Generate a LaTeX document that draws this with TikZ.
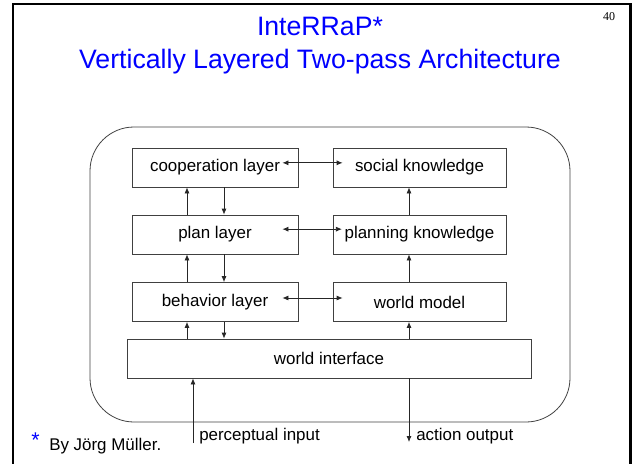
\documentclass[tikz,border=0pt]{standalone}
\usepackage{fontspec}
\setmainfont{Liberation Sans}
\newfontfamily\numfont{Liberation Serif}
\usepackage{tikz}
\usetikzlibrary{arrows.meta, positioning}
\definecolor{slideblue}{RGB}{0,0,255}

\begin{document}
\begin{tikzpicture}[
    x=0.75pt, y=-0.75pt,
    >={Latex[length=4.5pt,width=3.8pt]},
    box/.style={draw=black!75, line width=0.6pt, minimum height=29.25pt, inner sep=0pt,
        font=\fontsize{12.7}{15}\selectfont},
    layerbox/.style={box, minimum width=124.5pt},
    knowbox/.style={box, minimum width=129.75pt},
    lbl/.style={inner sep=0pt, font=\fontsize{12.7}{15}\selectfont},
    title/.style={inner sep=0pt, text=slideblue, font=\fontsize{20}{24}\selectfont},
    flow/.style={->, draw=black!85, line width=0.6pt}
]
\useasboundingbox (0,0) rectangle (632,464);
% slide frame
\draw[line width=2.2pt] (13,464) -- (13,4) -- (630.5,4) -- (630.5,464);
\node[anchor=base, inner sep=0pt, font=\numfont\fontsize{9}{11}\selectfont] (pagenum) at (609,21) {40};

% title
\node[title, anchor=base] (title1) at (320,36) {InteRRaP*};
\node[title, anchor=base] (title2) at (320,68) {Vertically Layered Two-pass Architecture};

% agent
\draw[draw=black!75, line width=0.6pt, rounded corners=33pt] (90,127) rectangle (570,422);

\node[layerbox] (coop) at (215,167.5) {cooperation layer};
\node[knowbox] (social) at (419.5,167.5) {social knowledge};
\node[layerbox] (plan) at (215,234.5) {plan layer};
\node[knowbox] (planning) at (419.5,234.5) {planning knowledge};
\node[layerbox] (behav) at (215,302) {behavior layer};
\node[knowbox] (world) at (419.5,302) {world model};
\node[box, minimum width=303pt] (wi) at (329,358.5) {world interface};

\coordinate (lup) at (187,0);
\coordinate (ldown) at (224,0);
\coordinate (rup) at (409,0);
\coordinate (pin) at (193,443);
\coordinate (aout) at (409,442);

% two-pass control
\draw[flow] (plan.north -| lup) -- (coop.south -| lup);
\draw[flow] (coop.south -| ldown) -- (plan.north -| ldown);
\draw[flow] (behav.north -| lup) -- (plan.south -| lup);
\draw[flow] (plan.south -| ldown) -- (behav.north -| ldown);
\draw[flow] (wi.north -| lup) -- (behav.south -| lup);
\draw[flow] (behav.south -| ldown) -- (wi.north -| ldown);

\draw[flow] (planning.north -| rup) -- (social.south -| rup);
\draw[flow] (world.north -| rup) -- (planning.south -| rup);
\draw[flow] (wi.north -| rup) -- (world.south -| rup);

\draw[flow, <->, shorten <=-12pt, shorten >=-7.5pt] ([yshift=3.5pt]coop.east) -- ([yshift=3.5pt]social.west);
\draw[flow, <->, shorten <=-12pt, shorten >=-7pt] ([yshift=4pt]plan.east) -- ([yshift=4pt]planning.west);
\draw[flow, <->, shorten <=-12pt, shorten >=-7.5pt] ([yshift=3pt]behav.east) -- ([yshift=3pt]world.west);

% input and output
\draw[flow] (pin) -- (wi.south -| pin);
\draw[flow] (wi.south -| aout) -- (aout);
\node[lbl, anchor=base west] (pinlbl) at (199,440) {perceptual input};
\node[lbl, anchor=base west] (aoutlbl) at (416,440) {action output};

% footnote
\node[anchor=base west, inner sep=0pt, text=slideblue, font=\fontsize{16}{18}\selectfont] (star) at (31,447) {*};
\node[lbl, anchor=base west] (credit) at (49,450) {By Jörg Müller.};
\end{tikzpicture}
\end{document}
